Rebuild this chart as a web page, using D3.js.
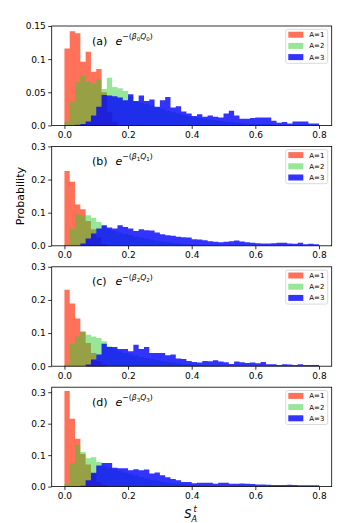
<!DOCTYPE html>
<html>
<head>
<meta charset="utf-8">
<script src="https://cdn.jsdelivr.net/npm/d3@7"></script>
<style>
  body { margin: 0; background: #fff; }
  svg { display: block; font-family: "DejaVu Sans", sans-serif; }
</style>
</head>
<body>
<svg id="chart" width="349" height="523"></svg>
<script>
// bins of width 1/60 starting at 0 (48 bins up to 0.8)
const binWidth = 1 / 60;

const xTicks = [0, 0.2, 0.4, 0.6, 0.8];
const xTickLabels = ['0.0', '0.2', '0.4', '0.6', '0.8'];

const yTicksA = [0, 0.05, 0.1, 0.15];
const yTickLabelsA = ['0.0', '0.05', '0.1', '0.15'];
const yTicksB = [0, 0.1, 0.2, 0.3];
const yTickLabelsB = ['0.0', '0.1', '0.2', '0.3'];

const seriesNames = ['A=1', 'A=2', 'A=3'];
const panelLetters = ['a', 'b', 'c', 'd'];
const panelIndex = ['0', '1', '2', '3'];

// panel (a)
const redA = [0.116, 0.142, 0.139, 0.096, 0.111, 0.081, 0.085, 0.05, 0.02, 0.005];
const greenA = [0.005, 0.036, 0.065, 0.075, 0.066, 0.063, 0.07, 0.055, 0.072, 0.058, 0.056, 0.052, 0.044, 0.036, 0.034, 0.032, 0.03, 0.027, 0.025, 0.022, 0.02, 0.018, 0.016, 0.014, 0.012, 0.011, 0.01, 0.009, 0.008, 0.007, 0.006, 0.005, 0.004, 0.004, 0.003, 0.003, 0.002, 0.002, 0.002, 0.001];
const blueA = [0, 0, 0.001, 0.002, 0.006, 0.015, 0.028, 0.046, 0.045, 0.044, 0.042, 0.038, 0.047, 0.037, 0.045, 0.037, 0.039, 0.028, 0.038, 0.043, 0.027, 0.029, 0.021, 0.018, 0.014, 0.017, 0.013, 0.015, 0.013, 0.012, 0.018, 0.022, 0.015, 0.010, 0.010, 0.011, 0.012, 0.012, 0.012, 0.007, 0.004, 0.005, 0.003, 0.006, 0.006, 0.006, 0.003, 0.003];

// panel (b)
const redB = [0.226, 0.193, 0.125, 0.11, 0.075, 0.05, 0.025, 0.005];
const greenB = [0.003, 0.052, 0.095, 0.092, 0.092, 0.085, 0.072, 0.06, 0.05, 0.045, 0.04, 0.036, 0.032, 0.028, 0.025, 0.022, 0.019, 0.016, 0.013, 0.011, 0.009, 0.008, 0.006, 0.005, 0.004, 0.003, 0.003, 0.002, 0.002, 0.001];
const blueB = [0, 0, 0, 0.007, 0.022, 0.037, 0.052, 0.062, 0.055, 0.052, 0.062, 0.057, 0.052, 0.045, 0.05, 0.047, 0.046, 0.04, 0.035, 0.032, 0.03, 0.027, 0.026, 0.025, 0.02, 0.019, 0.017, 0.014, 0.012, 0.011, 0.012, 0.014, 0.016, 0.013, 0.011, 0.009, 0.008, 0.007, 0.007, 0.008, 0.009, 0.009, 0.007, 0.006, 0.009, 0.005, 0.006, 0.005];

// panel (c)
const redC = [0.231, 0.189, 0.144, 0.105, 0.07, 0.04, 0.015, 0.005];
const greenC = [0.005, 0.068, 0.09, 0.103, 0.095, 0.09, 0.085, 0.075, 0.06, 0.052, 0.045, 0.04, 0.036, 0.032, 0.028, 0.025, 0.022, 0.019, 0.016, 0.013, 0.011, 0.009, 0.007, 0.006, 0.005, 0.004, 0.003, 0.002, 0.002, 0.001];
const blueC = [0, 0, 0, 0, 0.005, 0.02, 0.035, 0.068, 0.058, 0.058, 0.052, 0.052, 0.045, 0.065, 0.052, 0.058, 0.04, 0.04, 0.04, 0.033, 0.035, 0.023, 0.022, 0.016, 0.013, 0.011, 0.016, 0.015, 0.018, 0.014, 0.012, 0.007, 0.014, 0.012, 0.01, 0.011, 0.009, 0.013, 0.006, 0.006, 0.004, 0.006, 0.005, 0.004, 0.006, 0.004, 0.004, 0.004];

// panel (d)
const redD = [0.304, 0.216, 0.152, 0.104, 0.07, 0.04, 0.015, 0.005];
const greenD = [0.008, 0.075, 0.133, 0.11, 0.09, 0.093, 0.078, 0.066, 0.06, 0.055, 0.05, 0.045, 0.04, 0.035, 0.03, 0.026, 0.022, 0.019, 0.016, 0.013, 0.011, 0.009, 0.008, 0.006, 0.005, 0.004, 0.003, 0.002, 0.002, 0.001];
const blueD = [0, 0, 0, 0.003, 0.02, 0.044, 0.067, 0.075, 0.075, 0.06, 0.058, 0.058, 0.052, 0.055, 0.052, 0.054, 0.042, 0.045, 0.036, 0.03, 0.024, 0.02, 0.015, 0.015, 0.0105, 0.012, 0.012, 0.012, 0.009, 0.012, 0.012, 0.009, 0.009, 0.01, 0.009, 0.008, 0.007, 0.007, 0.006, 0.005, 0.005, 0.005, 0.006, 0.005, 0.004, 0.004, 0.004, 0.004];

const fills = ['#ff6347', '#32cd32', '#0000ff'];
const alphas = [0.9, 0.5, 0.8];

const panels = [
  { series: [redA, greenA, blueA], yMax: 0.15, ticks: yTicksA, labels: yTickLabelsA },
  { series: [redB, greenB, blueB], yMax: 0.3, ticks: yTicksB, labels: yTickLabelsB },
  { series: [redC, greenC, blueC], yMax: 0.3, ticks: yTicksB, labels: yTickLabelsB },
  { series: [redD, greenD, blueD], yMax: 0.316, ticks: yTicksB, labels: yTickLabelsB },
];

const svg = d3.select('#chart');
const left = 51.7, right = 331.7;
const panelTop = 26, panelH = 99.4, panelStep = 120.4;

const x = d3.scaleLinear().domain([-0.04, 0.84]).range([left, right]);

const stepPoints = vals => {
  let pts = vals.map((v, i) => [i * binWidth, v]);
  pts.push([vals.length * binWidth, vals[vals.length - 1]]);
  return pts;
};

panels.forEach((p, pi) => {
  const top = panelTop + pi * panelStep;
  const bottom = top + panelH;
  const y = d3.scaleLinear().domain([0, p.yMax]).range([bottom, top]);
  const g = svg.append('g');

  const area = d3.area()
    .curve(d3.curveStepAfter)
    .x(d => x(d[0]))
    .y0(y(0))
    .y1(d => y(d[1]));

  p.series.forEach((vals, si) => {
    g.append('path')
      .attr('d', area(stepPoints(vals)))
      .attr('fill', fills[si])
      .attr('fill-opacity', alphas[si]);
  });

  // axes
  const xAxis = d3.axisBottom(x).tickValues(xTicks)
    .tickFormat((d, i) => xTickLabels[i]).tickSizeOuter(0).tickSize(3.5).tickPadding(2.5);
  const yAxis = d3.axisLeft(y).tickValues(p.ticks)
    .tickFormat((d, i) => p.labels[i]).tickSizeOuter(0).tickSize(3.5).tickPadding(2.5);

  const gx = g.append('g').attr('transform', `translate(0,${bottom})`).call(xAxis);
  const gy = g.append('g').attr('transform', `translate(${left},0)`).call(yAxis);
  [gx, gy].forEach(a => {
    a.select('.domain').remove();
    a.selectAll('line').attr('stroke', '#000').attr('stroke-width', 0.8);
    a.selectAll('text').attr('font-size', 9).attr('fill', '#000')
      .attr('font-family', '"DejaVu Sans", sans-serif');
  });

  g.append('rect')
    .attr('x', left).attr('y', top)
    .attr('width', right - left).attr('height', panelH)
    .attr('fill', 'none').attr('stroke', '#000').attr('stroke-width', 0.8);

  // panel title  (x)  e^{-(beta_i Q_i)}
  const t = g.append('text').attr('x', 92).attr('y', top + 18.5).attr('font-size', 11);
  t.append('tspan').text(`(${panelLetters[pi]})`);
  t.append('tspan').attr('x', 115.5).attr('font-style', 'italic').text('e');
  t.append('tspan').attr('dy', -5.5).attr('font-size', 7.7).text('\u2212(');
  t.append('tspan').attr('font-size', 7.7).attr('font-style', 'italic').text('\u03b2');
  t.append('tspan').attr('dy', 2).attr('font-size', 5.5).text(panelIndex[pi]);
  t.append('tspan').attr('dy', -2).attr('font-size', 7.7).attr('font-style', 'italic').text('Q');
  t.append('tspan').attr('dy', 2).attr('font-size', 5.5).text(panelIndex[pi]);
  t.append('tspan').attr('dy', -2).attr('font-size', 7.7).text(')');

  // legend
  const lg = g.append('g').attr('transform', `translate(${right - 46},${top + 3.3})`);
  lg.append('rect').attr('width', 42).attr('height', 34).attr('rx', 2)
    .attr('fill', '#fff').attr('fill-opacity', 0.8)
    .attr('stroke', '#d0d0d0').attr('stroke-width', 0.8);
  seriesNames.forEach((name, si) => {
    const cy = 5.4 + si * 11.2;
    lg.append('rect').attr('x', 2.6).attr('y', cy - 3).attr('width', 15).attr('height', 6)
      .attr('fill', fills[si]).attr('fill-opacity', alphas[si]);
    lg.append('text').attr('x', 23.6).attr('y', cy).attr('dy', '0.35em')
      .attr('font-size', 7).attr('fill', '#000').text(name);
  });
});

// y label on panel (b)
const bMid = panelTop + panelStep + panelH / 2;
svg.append('text')
  .attr('transform', `translate(23.5,${bMid}) rotate(-90)`)
  .attr('text-anchor', 'middle').attr('font-size', 11).text('Probability');

// x label  S_A^t
const cx = (left + right) / 2;
const xl = svg.append('g');
xl.append('text').attr('x', cx - 7.5).attr('y', 518.3)
  .attr('font-size', 11.5).attr('font-style', 'italic').text('S');
xl.append('text').attr('x', cx + 1.8).attr('y', 512.3)
  .attr('font-size', 8).attr('font-style', 'italic').text('t');
xl.append('text').attr('x', cx - 0.3).attr('y', 521.7)
  .attr('font-size', 8).attr('font-style', 'italic').text('A');
</script>
</body>
</html>
